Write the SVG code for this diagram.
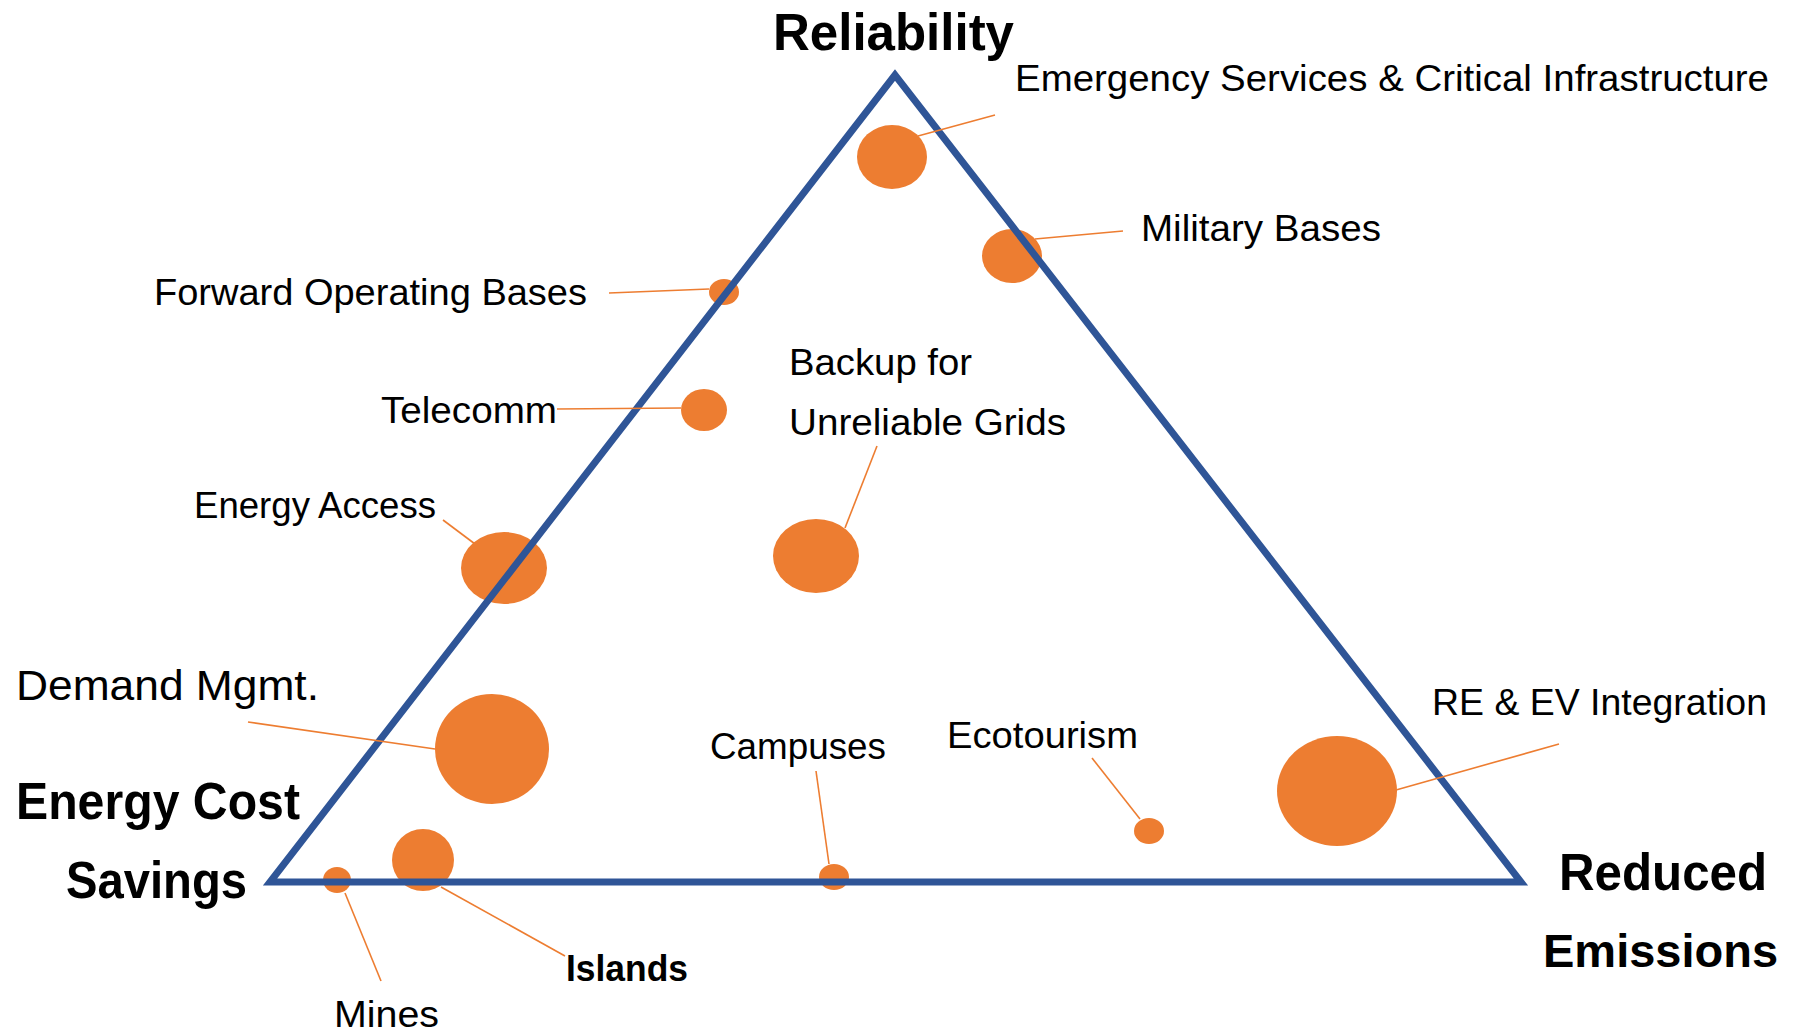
<svg xmlns="http://www.w3.org/2000/svg" width="1793" height="1032" viewBox="0 0 1793 1032">
<style>
.bub{fill:#ED7D31;}
.lbl{font-family:"Liberation Sans",Arial,sans-serif;font-size:36px;fill:#000;}
.ax{font-family:"Liberation Sans",Arial,sans-serif;font-size:52px;font-weight:bold;fill:#000;}
.lead{stroke:#ED7D31;stroke-width:1.6;fill:none;}
.tri{fill:none;stroke:#2F5597;stroke-width:7;stroke-linejoin:miter;}
</style>
<rect width="1793" height="1032" fill="#fff"/>
<g id="nodes">
<g id="n-emergency"><ellipse class="bub" cx="892" cy="157" rx="35" ry="32"/><text class="lbl" x="1015" y="91" textLength="754" lengthAdjust="spacingAndGlyphs">Emergency Services &amp; Critical Infrastructure</text></g>
<g id="n-military"><ellipse class="bub" cx="1012" cy="256" rx="30" ry="27"/><text class="lbl" x="1141" y="241" textLength="240" lengthAdjust="spacingAndGlyphs">Military Bases</text></g>
<g id="n-fob"><ellipse class="bub" cx="724" cy="292" rx="15" ry="13"/><text class="lbl" x="154" y="305" textLength="433" lengthAdjust="spacingAndGlyphs">Forward Operating Bases</text></g>
<g id="n-telecomm"><ellipse class="bub" cx="704" cy="410" rx="23" ry="21"/><text class="lbl" x="381" y="423" textLength="176" lengthAdjust="spacingAndGlyphs">Telecomm</text></g>
<g id="n-backup"><ellipse class="bub" cx="816" cy="556" rx="43" ry="37"/><text class="lbl" x="789" y="375" textLength="183" lengthAdjust="spacingAndGlyphs">Backup for</text><text class="lbl" x="789" y="435" textLength="277" lengthAdjust="spacingAndGlyphs">Unreliable Grids</text></g>
<g id="n-access"><ellipse class="bub" cx="504" cy="568" rx="43" ry="36"/><text class="lbl" x="194" y="518" textLength="242" lengthAdjust="spacingAndGlyphs">Energy Access</text></g>
<g id="n-demand"><ellipse class="bub" cx="492" cy="749" rx="57" ry="55"/><text class="lbl" x="16" y="700" style="font-size:43px" textLength="303" lengthAdjust="spacingAndGlyphs">Demand Mgmt.</text></g>
<g id="n-islands"><ellipse class="bub" cx="423" cy="860" rx="31" ry="31"/><text class="lbl" x="566" y="981" style="font-weight:bold" textLength="122" lengthAdjust="spacingAndGlyphs">Islands</text></g>
<g id="n-mines"><ellipse class="bub" cx="337" cy="880" rx="14" ry="13"/><text class="lbl" x="334" y="1027" textLength="105" lengthAdjust="spacingAndGlyphs">Mines</text></g>
<g id="n-campuses"><ellipse class="bub" cx="834" cy="877" rx="15" ry="13"/><text class="lbl" x="710" y="759" textLength="176" lengthAdjust="spacingAndGlyphs">Campuses</text></g>
<g id="n-ecotourism"><ellipse class="bub" cx="1149" cy="831" rx="15" ry="13"/><text class="lbl" x="947" y="748" textLength="191" lengthAdjust="spacingAndGlyphs">Ecotourism</text></g>
<g id="n-reev"><ellipse class="bub" cx="1337" cy="791" rx="60" ry="55"/><text class="lbl" x="1432" y="715" textLength="335" lengthAdjust="spacingAndGlyphs">RE &amp; EV Integration</text></g>
</g>
<g id="triangle">
<polygon class="tri" points="895,75 270,882 1521,882"/>
</g>
<g id="axis-labels">
<text class="ax" x="773" y="50" textLength="241" lengthAdjust="spacingAndGlyphs">Reliability</text>
<text class="ax" x="16" y="819" textLength="284" lengthAdjust="spacingAndGlyphs">Energy Cost</text>
<text class="ax" x="66" y="898" textLength="181" lengthAdjust="spacingAndGlyphs">Savings</text>
<text class="ax" x="1559" y="890" textLength="208" lengthAdjust="spacingAndGlyphs">Reduced</text>
<text class="ax" x="1543" y="967" style="font-size:47px">Emissions</text>
</g>
<g id="connectors">
<line class="lead" x1="995" y1="115" x2="918" y2="136"/>
<line class="lead" x1="1123" y1="231" x2="1035" y2="239"/>
<line class="lead" x1="609" y1="293" x2="709" y2="289"/>
<line class="lead" x1="557" y1="409" x2="681" y2="408"/>
<line class="lead" x1="877" y1="446" x2="845" y2="528"/>
<line class="lead" x1="443" y1="520" x2="475" y2="544"/>
<line class="lead" x1="248" y1="722" x2="435" y2="749"/>
<line class="lead" x1="565" y1="956" x2="441" y2="887"/>
<line class="lead" x1="381" y1="981" x2="345" y2="893"/>
<line class="lead" x1="816" y1="771" x2="829" y2="864"/>
<line class="lead" x1="1092" y1="758" x2="1140" y2="819"/>
<line class="lead" x1="1559" y1="744" x2="1396" y2="790"/>
</g>
</svg>
